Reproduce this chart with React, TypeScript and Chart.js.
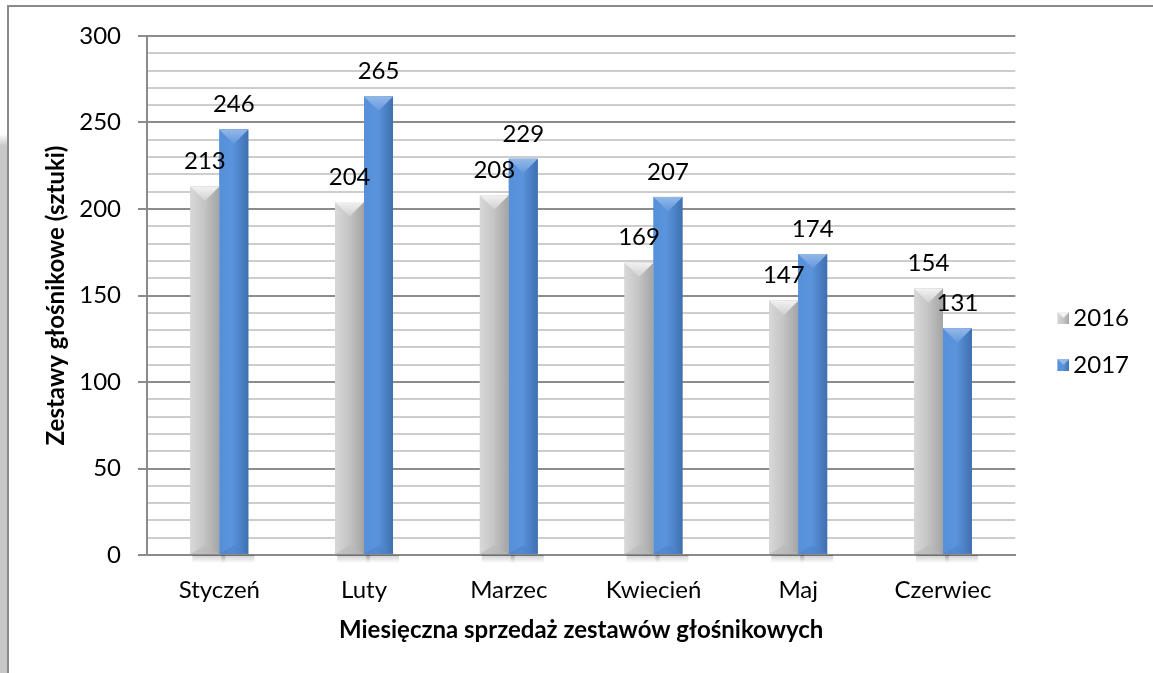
import React, { useEffect, useRef } from "react";
import { Chart, registerables } from "chart.js";

Chart.register(...registerables);

const categories = ["Styczeń", "Luty", "Marzec", "Kwiecień", "Maj", "Czerwiec"];
const values2016 = [213, 204, 208, 169, 147, 154];
const values2017 = [246, 265, 229, 207, 174, 131];
const seriesLabels = ["2016", "2017"];
const yMin = 0;
const yMax = 300;
const yMajorStep = 50;
const yMinorStep = 10;
const xTitle = "Miesięczna sprzedaż zestawów głośnikowych";
const yTitle = "Zestawy głośnikowe (sztuki)";

const FONT = 'Lato, "Noto Sans", sans-serif';

const palettes = [
  { base: "#c3c3c3", left: "#d8d8d8", mid: "#c6c6c6", right: "#a4a4a4", top: "#f2f2f2", topEnd: "#cfcfcf", bottom: "#b8b8b8" },
  { base: "#558ed5", left: "#5690d8", mid: "#5b94dc", right: "#3f70b0", top: "#93b8e9", topEnd: "#6398dc", bottom: "#4c82c8" },
];

function makeLegendIcon(p: any): HTMLCanvasElement {
  const c = document.createElement("canvas");
  c.width = 20;
  c.height = 12;
  const g = c.getContext("2d")!;
  const l = 8, t = 0, s = 12;
  const grad = g.createLinearGradient(l, 0, l + s, 0);
  grad.addColorStop(0, p.left);
  grad.addColorStop(0.5, p.mid);
  grad.addColorStop(1, p.right);
  g.fillStyle = grad;
  g.fillRect(l, t, s, s);
  g.fillStyle = p.top;
  g.beginPath();
  g.moveTo(l, t);
  g.lineTo(l + s, t);
  g.lineTo(l + s / 2, t + s / 2);
  g.closePath();
  g.fill();
  return c;
}

const framePlugin = {
  id: "frame",
  beforeDraw(chart: any) {
    const { ctx, width, height } = chart;
    ctx.save();
    ctx.fillStyle = "#ffffff";
    ctx.fillRect(0, 0, width, height);
    const g = ctx.createLinearGradient(0, 134, 0, 146);
    g.addColorStop(0, "rgba(200,200,200,0)");
    g.addColorStop(1, "rgba(200,200,200,1)");
    ctx.fillStyle = g;
    ctx.fillRect(0, 134, 7, 12);
    ctx.fillStyle = "#c8c8c8";
    ctx.fillRect(0, 146, 7, height - 146);
    ctx.strokeStyle = "#8a8a8a";
    ctx.lineWidth = 2;
    ctx.beginPath();
    ctx.moveTo(8, height);
    ctx.lineTo(8, 6);
    ctx.lineTo(width, 6);
    ctx.stroke();
    ctx.restore();
  },
};

const bevelPlugin = {
  id: "bevel",
  afterDatasetsDraw(chart: any) {
    const { ctx } = chart;
    ctx.save();
    chart.data.datasets.forEach((_ds: any, di: number) => {
      const meta = chart.getDatasetMeta(di);
      if (meta.hidden) return;
      const p = palettes[di];
      meta.data.forEach((el: any) => {
        const { x, y, base, width } = el.getProps(["x", "y", "base", "width"], true);
        const l = x - width / 2;
        const r = x + width / 2;
        const h = base - y;
        const sg = ctx.createLinearGradient(0, base, 0, base + 9);
        sg.addColorStop(0, "rgba(0,0,0,0.22)");
        sg.addColorStop(1, "rgba(0,0,0,0)");
        ctx.fillStyle = sg;
        ctx.fillRect(l + 2, base + 1, width + 4, 9);
        const grad = ctx.createLinearGradient(l, 0, r, 0);
        grad.addColorStop(0, p.left);
        grad.addColorStop(0.45, p.mid);
        grad.addColorStop(1, p.right);
        ctx.fillStyle = grad;
        ctx.fillRect(l, y, width, h);
        const d = Math.min(width * 0.5, h / 2);
        const tg = ctx.createLinearGradient(0, y, 0, y + d);
        tg.addColorStop(0, p.top);
        tg.addColorStop(1, p.topEnd);
        ctx.fillStyle = tg;
        ctx.beginPath();
        ctx.moveTo(l, y);
        ctx.lineTo(r, y);
        ctx.lineTo(x, y + d);
        ctx.closePath();
        ctx.fill();
        ctx.fillStyle = p.bottom;
        ctx.globalAlpha = 0.6;
        ctx.beginPath();
        ctx.moveTo(l, base);
        ctx.lineTo(r, base);
        ctx.lineTo(x, base - d * 0.6);
        ctx.closePath();
        ctx.fill();
        ctx.globalAlpha = 1;
      });
    });
    ctx.restore();
  },
};

const labelPlugin = {
  id: "valueLabels",
  afterDatasetsDraw(chart: any) {
    const { ctx } = chart;
    ctx.save();
    ctx.font = `24px ${FONT}`;
    ctx.fillStyle = "#000";
    ctx.textAlign = "center";
    ctx.textBaseline = "middle";
    chart.data.datasets.forEach((ds: any, di: number) => {
      const meta = chart.getDatasetMeta(di);
      meta.data.forEach((el: any, i: number) => {
        const { x, y } = el.getProps(["x", "y"], true);
        ctx.fillText(String(ds.data[i]), x, y - 25);
      });
    });
    ctx.restore();
  },
};

export default function App() {
  const ref = useRef<HTMLCanvasElement>(null);
  useEffect(() => {
    const icons = palettes.map(makeLegendIcon);
    const chart = new Chart(ref.current!, {
      type: "bar",
      data: {
        labels: categories,
        datasets: [
          { label: seriesLabels[0], data: values2016, backgroundColor: palettes[0].base, borderWidth: 0, pointStyle: icons[0] as any },
          { label: seriesLabels[1], data: values2017, backgroundColor: palettes[1].base, borderWidth: 0, pointStyle: icons[1] as any },
        ],
      },
      options: {
        responsive: false,
        animation: false,
        events: [],
        layout: { padding: { top: 36, bottom: 26, left: 0, right: 14 } },
        datasets: { bar: { categoryPercentage: 0.4, barPercentage: 1 } },
        scales: {
          x: {
            grid: { display: false, drawTicks: false },
            border: { display: true, color: "#8a8a8a", width: 2 },
            ticks: { color: "#000", padding: 21, font: { size: 24, family: FONT } },
            title: { display: true, text: xTitle, color: "#000", font: { size: 24, weight: "bold", family: FONT }, padding: { top: 0, bottom: 2 } },
            afterFit: (s: any) => { s.height = 92; },
          },
          y: {
            min: yMin,
            max: yMax,
            ticks: {
              stepSize: yMinorStep,
              autoSkip: false,
              color: "#000",
              padding: 17,
              font: { size: 24, family: FONT },
              callback: (v: any) => (Number(v) % yMajorStep === 0 ? String(v) : ""),
            },
            grid: {
              color: (c: any) => (c.tick && c.tick.value % yMajorStep === 0 ? "#8c8c8c" : "#cdcdcd"),
              tickColor: (c: any) => (c.tick && c.tick.value % yMajorStep === 0 ? "#8c8c8c" : "rgba(0,0,0,0)"),
              lineWidth: 2,
              tickLength: 9,
            },
            border: { color: "#8a8a8a", width: 2 },
            title: { display: true, text: yTitle, color: "#000", font: { size: 24, weight: "bold", family: FONT }, padding: { top: 42, bottom: 0 } },
            afterFit: (s: any) => { s.width = 147; },
          },
          y2: {
            position: "right",
            display: true,
            grid: { display: false, drawTicks: false },
            border: { display: false },
            ticks: { display: false },
            afterFit: (s: any) => { s.width = 19; },
          },
        },
        plugins: {
          legend: {
            position: "right",
            align: "center",
            labels: {
              usePointStyle: true,
              boxWidth: 4,
              boxHeight: 12,
              padding: 23,
              color: "#000",
              font: { size: 24, family: FONT },
            },
          },
          tooltip: { enabled: false },
        },
      },
      plugins: [framePlugin, bevelPlugin, labelPlugin],
    } as any);
    return () => chart.destroy();
  }, []);
  return (
    <div style={{ position: "fixed", left: 0, top: 0, width: 1153, height: 673 }}>
      <canvas ref={ref} width={1153} height={673} style={{ display: "block" }} />
    </div>
  );
}
